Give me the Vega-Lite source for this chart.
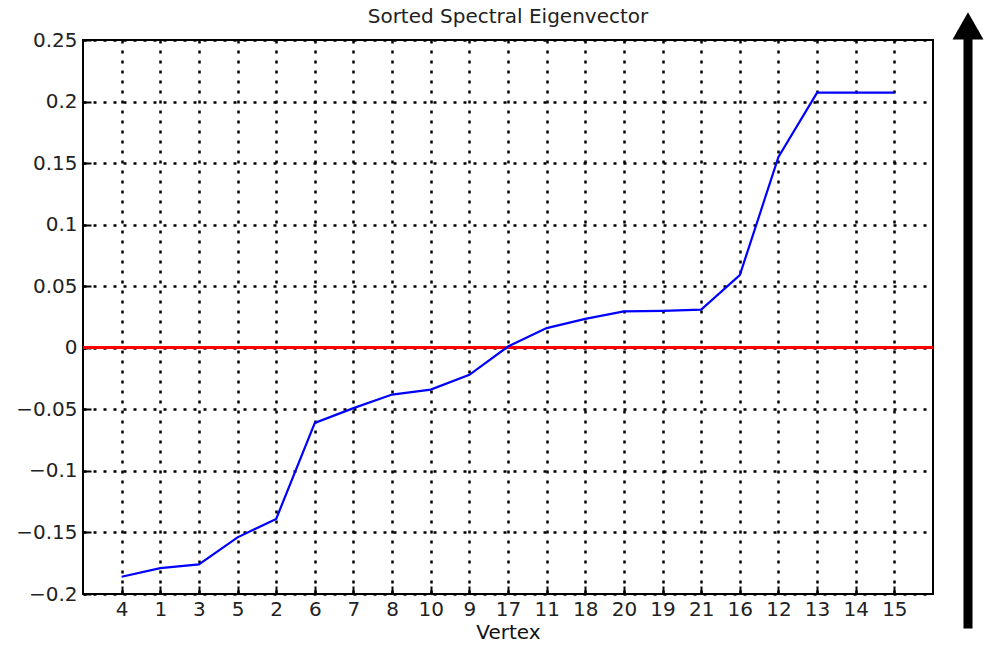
{
  "$schema": "https://vega.github.io/schema/vega-lite/v6.json",
  "background": "white",
  "padding": {"left": 14, "top": 6, "right": 0, "bottom": 0},
  "spacing": 16,
  "config": {
    "font": "DejaVu Sans",
    "axis": {"labelFont": "DejaVu Sans", "labelFontSize": 20, "labelColor": "#222", "titleFont": "DejaVu Sans", "titleFontSize": 20, "titleFontWeight": "normal", "titleColor": "#111"},
    "title": {"font": "DejaVu Sans", "fontSize": 20, "fontWeight": "normal", "color": "#222"}
  },
  "hconcat": [
    {
      "width": 850,
      "height": 554,
      "title": {"text": "Sorted Spectral Eigenvector", "offset": 3},
      "view": {"stroke": "black", "strokeWidth": 2},
      "data": {"values": [
        {"vertex": "4", "value": -0.186},
        {"vertex": "1", "value": -0.179},
        {"vertex": "3", "value": -0.176},
        {"vertex": "5", "value": -0.154},
        {"vertex": "2", "value": -0.139},
        {"vertex": "6", "value": -0.061},
        {"vertex": "7", "value": -0.049},
        {"vertex": "8", "value": -0.038},
        {"vertex": "10", "value": -0.034},
        {"vertex": "9", "value": -0.022},
        {"vertex": "17", "value": 0.001},
        {"vertex": "11", "value": 0.016},
        {"vertex": "18", "value": 0.0235},
        {"vertex": "20", "value": 0.0295},
        {"vertex": "19", "value": 0.030},
        {"vertex": "21", "value": 0.031},
        {"vertex": "16", "value": 0.059},
        {"vertex": "12", "value": 0.155},
        {"vertex": "13", "value": 0.2073},
        {"vertex": "14", "value": 0.2073},
        {"vertex": "15", "value": 0.2073}
      ]},
      "encoding": {
        "x": {
          "field": "vertex", "type": "ordinal",
          "sort": ["4","1","3","5","2","6","7","8","10","9","17","11","18","20","19","21","16","12","13","14","15"],
          "scale": {"type": "point", "padding": 1},
          "axis": {"title": "Vertex", "labelAngle": 0, "grid": true, "gridColor": "black", "gridDash": [3, 7], "gridWidth": 2.5, "gridOpacity": 1, "domain": false, "tickSize": -8, "tickColor": "black", "tickWidth": 2, "labelPadding": 13, "titlePadding": 3}
        },
        "y": {
          "field": "value", "type": "quantitative",
          "scale": {"domain": [-0.2, 0.25], "nice": false, "zero": false},
          "axis": {"title": null, "values": [-0.2, -0.15, -0.1, -0.05, 0, 0.05, 0.1, 0.15, 0.2, 0.25], "format": ".2~f", "grid": true, "gridColor": "black", "gridDash": [3, 7], "gridWidth": 2.5, "gridOpacity": 1, "domain": false, "tickSize": -8, "tickColor": "black", "tickWidth": 2, "labelPadding": 14}
        }
      },
      "layer": [
        {"mark": {"type": "rule", "color": "#ff0000", "strokeWidth": 2.5}, "encoding": {"x": null, "y": {"datum": 0}}},
        {"mark": {"type": "line", "color": "#0000ff", "strokeWidth": 2.2}}
      ]
    },
    {
      "width": 20,
      "height": 554,
      "view": {"stroke": null},
      "data": {"values": [{"tail": -0.228, "shaftEnd": 0.252, "tip": 0.2725}]},
      "layer": [
        {
          "mark": {"type": "rule", "color": "black", "strokeWidth": 9, "strokeCap": "butt"},
          "encoding": {
            "x": {"datum": 0, "type": "quantitative", "scale": {"domain": [-1, 1]}, "axis": null},
            "y": {"field": "tail", "type": "quantitative", "scale": {"domain": [-0.2, 0.25], "nice": false, "zero": false}, "axis": null},
            "y2": {"field": "shaftEnd"}
          }
        },
        {
          "mark": {"type": "point", "shape": "M-1,1.75 L0,0 L1,1.75 Z", "filled": true, "color": "black", "size": 961, "opacity": 1},
          "encoding": {
            "x": {"datum": 0, "type": "quantitative", "scale": {"domain": [-1, 1]}, "axis": null},
            "y": {"field": "tip", "type": "quantitative", "scale": {"domain": [-0.2, 0.25], "nice": false, "zero": false}, "axis": null}
          }
        }
      ]
    }
  ]
}
